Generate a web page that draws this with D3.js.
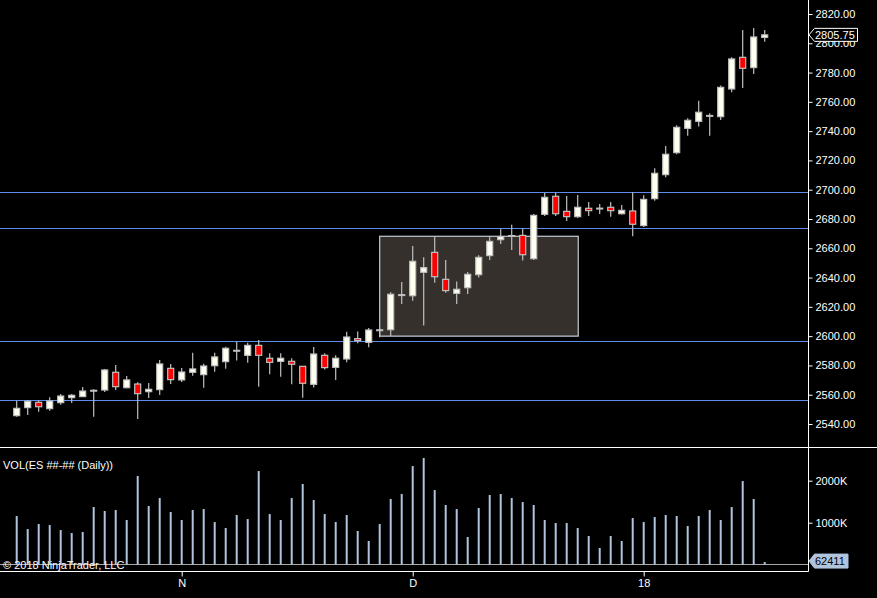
<!DOCTYPE html>
<html>
<head>
<meta charset="utf-8">
<script src="https://cdn.jsdelivr.net/npm/d3@7"></script>
<style>
  html, body { margin: 0; padding: 0; background: #000; overflow: hidden; }
  text { font-family: "Liberation Sans", Arial, sans-serif; font-size: 11px; }
</style>
</head>
<body>
<div id="chart"></div>
<script>
// daily bars, oldest first
const opens = [2545.7, 2551.2, 2554.8, 2550.5, 2554.6, 2558.0, 2558.7, 2562.6, 2563.2, 2575.3,
  2564.8, 2567.3, 2562.1, 2563.5, 2578.0, 2570.1, 2575.3, 2573.7, 2579.8, 2582.6,
  2590.0, 2586.9, 2593.7, 2584.9, 2582.8, 2582.8, 2579.4, 2567.1, 2586.9, 2578.7,
  2584.4, 2598.3, 2595.8, 2604.0, 2604.4, 2628.0, 2627.6, 2643.6, 2657.2, 2638.8,
  2629.2, 2633.1, 2642.0, 2655.0, 2665.9, 2668.5, 2668.8, 2652.9, 2683.2, 2695.5,
  2685.2, 2681.6, 2687.3, 2687.2, 2688.0, 2683.6, 2685.5, 2675.5, 2693.9, 2710.3,
  2725.3, 2741.9, 2746.7, 2750.5, 2749.9, 2768.8, 2790.4, 2783.4, 2804.0];
const highs = [2555.9, 2556.2, 2556.0, 2558.2, 2560.5, 2560.5, 2565.3, 2563.7, 2577.6, 2580.3,
  2572.8, 2568.5, 2568.0, 2583.7, 2581.0, 2578.2, 2588.7, 2581.2, 2588.7, 2592.8,
  2596.2, 2595.5, 2597.4, 2588.3, 2588.3, 2584.9, 2579.6, 2592.6, 2588.3, 2586.9,
  2603.0, 2603.1, 2605.6, 2605.3, 2629.9, 2637.0, 2661.6, 2653.8, 2668.0, 2652.0,
  2637.4, 2643.8, 2655.2, 2668.0, 2673.2, 2676.0, 2673.4, 2683.4, 2698.0, 2698.0,
  2695.7, 2696.4, 2691.6, 2690.2, 2691.6, 2689.6, 2698.2, 2696.2, 2714.6, 2729.9,
  2744.0, 2748.8, 2760.8, 2752.2, 2771.1, 2790.4, 2809.1, 2810.4, 2809.1];
const lows = [2545.0, 2546.2, 2548.4, 2549.1, 2553.2, 2554.3, 2558.5, 2545.0, 2561.9, 2563.2,
  2564.5, 2543.4, 2557.8, 2559.8, 2567.3, 2568.7, 2573.0, 2564.8, 2575.7, 2577.8,
  2583.3, 2581.9, 2565.5, 2573.9, 2572.3, 2567.1, 2558.0, 2565.0, 2577.3, 2570.0,
  2582.1, 2595.1, 2592.4, 2599.2, 2600.1, 2622.0, 2624.2, 2607.2, 2636.5, 2629.7,
  2622.0, 2628.8, 2640.0, 2652.0, 2663.0, 2658.8, 2651.6, 2652.0, 2682.0, 2682.0,
  2678.6, 2680.7, 2682.0, 2683.4, 2681.6, 2683.0, 2668.2, 2674.5, 2692.5, 2708.5,
  2724.2, 2736.9, 2743.1, 2736.9, 2747.6, 2766.5, 2769.5, 2779.0, 2801.1];
const closes = [2550.7, 2555.5, 2551.8, 2555.7, 2559.1, 2559.6, 2562.5, 2563.0, 2576.9, 2565.5,
  2570.1, 2560.7, 2563.7, 2581.0, 2570.3, 2575.5, 2577.6, 2579.6, 2585.8, 2591.7,
  2590.3, 2593.7, 2586.9, 2582.1, 2584.9, 2580.8, 2567.8, 2587.8, 2578.5, 2584.9,
  2599.4, 2597.0, 2604.2, 2604.3, 2628.6, 2628.3, 2651.1, 2646.8, 2640.6, 2631.1,
  2632.0, 2642.2, 2653.8, 2664.7, 2668.0, 2668.7, 2655.6, 2682.5, 2694.8, 2683.6,
  2681.6, 2688.0, 2685.7, 2687.4, 2685.7, 2685.9, 2676.4, 2693.4, 2711.2, 2724.2,
  2742.6, 2747.4, 2752.9, 2750.7, 2769.9, 2789.3, 2782.9, 2804.3, 2805.75];
// volume in thousands of contracts
const volumes = [1159, 849, 968, 944, 825, 754, 778, 1373, 1278, 1302,
  1064, 2111, 1397, 1587, 1254, 1064, 1302, 1325, 1016, 873,
  1183, 1087, 2230, 1206, 1064, 1587, 1921, 1540, 1206, 1016,
  1183, 802, 564, 968, 1564, 1683, 2349, 2540, 1778, 1421,
  1325, 659, 1349, 1659, 1683, 1587, 1492, 1421, 1064, 992,
  992, 873, 683, 397, 683, 564, 1111, 1016, 1135, 1183,
  1159, 921, 1159, 1302, 1064, 1373, 1992, 1564, 62.411];
const lastVolume = 62411;

const priceTicks = [2540, 2560, 2580, 2600, 2620, 2640, 2660, 2680, 2700, 2720, 2740, 2760, 2780, 2800, 2820];
const volumeTicks = [1000, 2000];
const monthTickIdx = [15, 36, 57];
const monthTickLabels = ["N", "D", "18"];

// drawn objects: horizontal lines and the consolidation box
const levelLines = [2698.2, 2673.7, 2596.5, 2556.2];
const boxFromIdx = 33, boxToIdx = 51.05, boxHigh = 2668.2, boxLow = 2600;

const W = 877, H = 598;
const axisX = 808.5, priceBottom = 447.5, volBottom = 571.5;

const svg = d3.select("#chart").append("svg")
  .attr("width", W).attr("height", H)
  .style("background", "#000");

const x = d3.scaleLinear().domain([0, 68]).range([16.7, 764.7]);
const y = d3.scaleLinear().domain([2540, 2820]).range([424, 14]);
const yv = d3.scaleLinear().domain([0, 2000]).range([564.7, 480.7]);

const bars = opens.map((o, i) => ({i, o, h: highs[i], l: lows[i], c: closes[i], v: volumes[i]}));

// ---- price panel ----
const price = svg.append("g");

price.append("rect")
  .attr("x", x(boxFromIdx)).attr("y", y(boxHigh))
  .attr("width", x(boxToIdx) - x(boxFromIdx))
  .attr("height", y(boxLow) - y(boxHigh))
  .attr("fill", "#35302c")
  .attr("stroke", "#c4ccd6")
  .attr("stroke-width", 1.2);

price.selectAll("line.level").data(levelLines).join("line")
  .attr("class", "level")
  .attr("x1", 0).attr("x2", axisX)
  .attr("y1", d => Math.round(y(d)) + 0.5).attr("y2", d => Math.round(y(d)) + 0.5)
  .attr("stroke", "#5f8cf0").attr("stroke-width", 1);

const candle = price.selectAll("g.candle").data(bars).join("g").attr("class", "candle");

candle.append("line")
  .attr("x1", d => x(d.i)).attr("x2", d => x(d.i))
  .attr("y1", d => y(d.h)).attr("y2", d => y(d.l))
  .attr("stroke", "#c0c0c0").attr("stroke-width", 1.2);

candle.append("rect")
  .attr("x", d => x(d.i) - 3)
  .attr("width", 6)
  .attr("y", d => y(Math.max(d.o, d.c)))
  .attr("height", d => Math.max(0.8, Math.abs(y(d.o) - y(d.c))))
  .attr("fill", d => d.c >= d.o ? "#fffff0" : "#ff0000")
  .attr("stroke", "#c0c0c0")
  .attr("stroke-width", 1.2);

// price axis
svg.append("g")
  .attr("transform", `translate(${axisX},0)`)
  .call(d3.axisRight(y).tickValues(priceTicks).tickSize(4).tickPadding(3).tickFormat(d3.format(".2f")))
  .call(g => g.select(".domain").remove())
  .call(g => g.selectAll("line").attr("stroke", "#fff"))
  .call(g => g.selectAll("text").attr("fill", "#fff").style("font-size", "11px"));

// last price marker
const lastPrice = closes[closes.length - 1];
const ly = y(lastPrice);
svg.append("path")
  .attr("d", `M${axisX + 0.5},${ly} L${axisX + 6},${ly - 6.5} L857.5,${ly - 6.5} L857.5,${ly + 6.5} L${axisX + 6},${ly + 6.5} Z`)
  .attr("fill", "#000").attr("stroke", "#fff").attr("stroke-width", 1);
svg.append("text")
  .attr("x", 815).attr("y", ly + 4)
  .attr("fill", "#fff")
  .text(d3.format(".2f")(lastPrice));

// ---- volume panel ----
svg.append("line")
  .attr("x1", 0).attr("x2", axisX)
  .attr("y1", 564.5).attr("y2", 564.5)
  .attr("stroke", "#a8a8a8");

svg.append("g").selectAll("line").data(bars).join("line")
  .attr("x1", d => x(d.i)).attr("x2", d => x(d.i))
  .attr("y1", yv(0)).attr("y2", d => yv(d.v))
  .attr("stroke", "#b0c4de").attr("stroke-width", 2);

svg.append("g")
  .attr("transform", `translate(${axisX},0)`)
  .call(d3.axisRight(yv).tickValues(volumeTicks).tickSize(4).tickPadding(3).tickFormat(d => d + "K"))
  .call(g => g.select(".domain").remove())
  .call(g => g.selectAll("line").attr("stroke", "#fff"))
  .call(g => g.selectAll("text").attr("fill", "#fff").style("font-size", "11px"));

const vy = yv(volumes[volumes.length - 1]) - 1;
svg.append("path")
  .attr("d", `M${axisX + 0.5},${vy} L${axisX + 6},${vy - 7} L848,${vy - 7} L848,${vy + 7} L${axisX + 6},${vy + 7} Z`)
  .attr("fill", "#b0c4de").attr("stroke", "#b0c4de");
svg.append("text")
  .attr("x", 815).attr("y", vy + 4)
  .attr("fill", "#000")
  .text(lastVolume);

svg.append("text").attr("x", 3).attr("y", 469).attr("fill", "#fff").text("VOL(ES ##-## (Daily))");
svg.append("text").attr("x", 3).attr("y", 569).attr("fill", "#fff").text("\u00a9 2018 NinjaTrader, LLC");

// ---- frame lines ----
svg.append("line").attr("x1", 0).attr("x2", W).attr("y1", priceBottom).attr("y2", priceBottom).attr("stroke", "#fff");
svg.append("line").attr("x1", 0).attr("x2", axisX).attr("y1", volBottom).attr("y2", volBottom).attr("stroke", "#fff");
svg.append("line").attr("x1", axisX).attr("x2", axisX).attr("y1", 0).attr("y2", volBottom).attr("stroke", "#fff");

// time axis
svg.append("g")
  .attr("transform", `translate(0,${volBottom})`)
  .call(d3.axisBottom(x).tickValues(monthTickIdx).tickSize(5).tickPadding(3)
    .tickFormat((d, k) => monthTickLabels[k]))
  .call(g => g.select(".domain").remove())
  .call(g => g.selectAll("line").attr("stroke", "#fff"))
  .call(g => g.selectAll("text").attr("fill", "#fff").style("font-size", "11px"));
</script>
</body>
</html>
